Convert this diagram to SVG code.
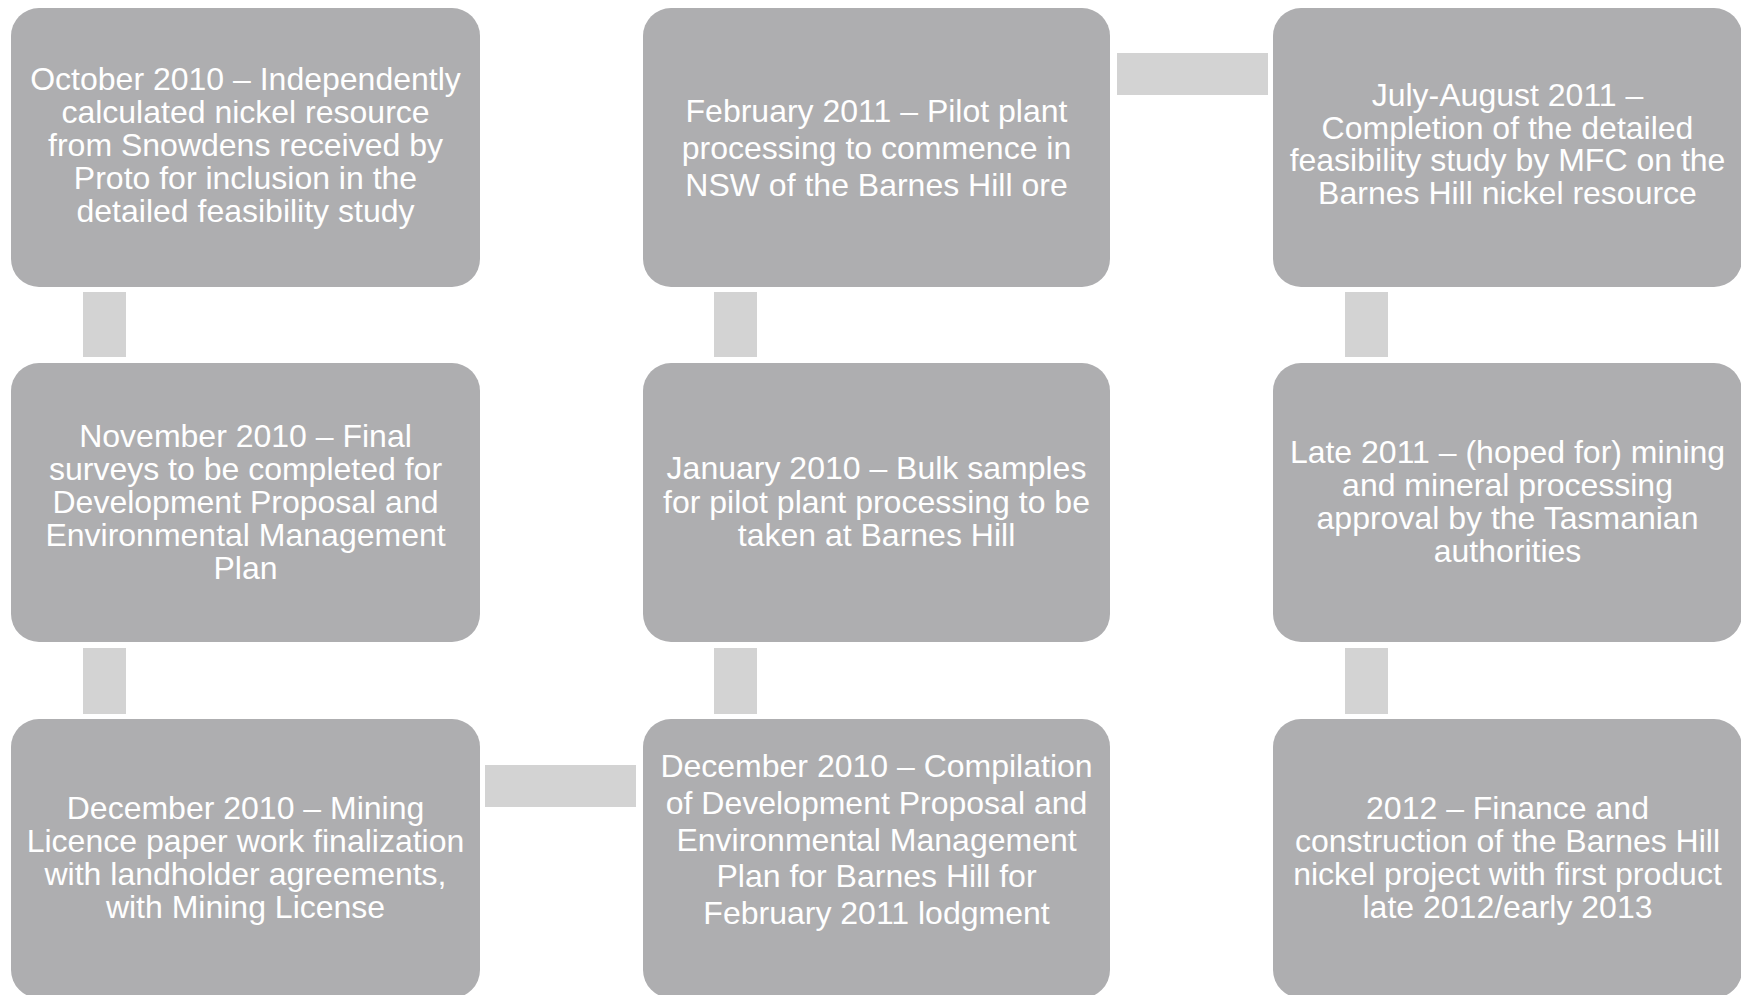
<svg xmlns="http://www.w3.org/2000/svg" width="1741" height="995" viewBox="0 0 1741 995">
<style>
.box{fill:#AEAEB0;}
.conn{fill:#D3D3D3;}
text{font-family:"Liberation Sans",Arial,sans-serif;font-size:32px;fill:#FFFFFF;text-anchor:middle;}
</style>
<rect width="1741" height="995" fill="#FFFFFF"/>
<g id="connectors">
<rect class="conn" x="83" y="292" width="43" height="65"/>
<rect class="conn" x="83" y="648" width="43" height="66"/>
<rect class="conn" x="714" y="292" width="43" height="65"/>
<rect class="conn" x="714" y="648" width="43" height="66"/>
<rect class="conn" x="1345" y="292" width="43" height="65"/>
<rect class="conn" x="1345" y="648" width="43" height="66"/>
<rect class="conn" x="1117" y="53" width="151" height="42"/>
<rect class="conn" x="485" y="765" width="151" height="42"/>
</g>
<g id="node-oct2010">
<rect class="box" x="11" y="8" width="469" height="279" rx="28"/>
<text x="245.5"><tspan x="245.5" y="90">October 2010 – Independently</tspan><tspan x="245.5" y="123">calculated nickel resource</tspan><tspan x="245.5" y="156">from Snowdens received by</tspan><tspan x="245.5" y="189">Proto for inclusion in the</tspan><tspan x="245.5" y="222">detailed feasibility study</tspan></text>
</g>
<g id="node-feb2011">
<rect class="box" x="643" y="8" width="467" height="279" rx="28"/>
<text><tspan x="876.5" y="122">February 2011 – Pilot plant</tspan><tspan x="876.5" y="159">processing to commence in</tspan><tspan x="876.5" y="196">NSW of the Barnes Hill ore</tspan></text>
</g>
<g id="node-julaug2011">
<rect class="box" x="1273" y="8" width="469" height="279" rx="28"/>
<text><tspan x="1507.5" y="106">July-August 2011 –</tspan><tspan x="1507.5" y="138.5">Completion of the detailed</tspan><tspan x="1507.5" y="171">feasibility study by MFC on the</tspan><tspan x="1507.5" y="203.5">Barnes Hill nickel resource</tspan></text>
</g>
<g id="node-nov2010">
<rect class="box" x="11" y="363" width="469" height="279" rx="28"/>
<text><tspan x="245.5" y="446.5">November 2010 – Final</tspan><tspan x="245.5" y="479.5">surveys to be completed for</tspan><tspan x="245.5" y="512.5">Development Proposal and</tspan><tspan x="245.5" y="545.5">Environmental Management</tspan><tspan x="245.5" y="578.5">Plan</tspan></text>
</g>
<g id="node-jan2010">
<rect class="box" x="643" y="363" width="467" height="279" rx="28"/>
<text><tspan x="876.5" y="479">January 2010 – Bulk samples</tspan><tspan x="876.5" y="512.5">for pilot plant processing to be</tspan><tspan x="876.5" y="546">taken at Barnes Hill</tspan></text>
</g>
<g id="node-late2011">
<rect class="box" x="1273" y="363" width="469" height="279" rx="28"/>
<text><tspan x="1507.5" y="463">Late 2011 – (hoped for) mining</tspan><tspan x="1507.5" y="496">and mineral processing</tspan><tspan x="1507.5" y="529">approval by the Tasmanian</tspan><tspan x="1507.5" y="562">authorities</tspan></text>
</g>
<g id="node-dec2010-mining">
<rect class="box" x="11" y="719" width="469" height="279" rx="28"/>
<text><tspan x="245.5" y="819">December 2010 – Mining</tspan><tspan x="245.5" y="852">Licence paper work finalization</tspan><tspan x="245.5" y="885">with landholder agreements,</tspan><tspan x="245.5" y="918">with Mining License</tspan></text>
</g>
<g id="node-dec2010-compilation">
<rect class="box" x="643" y="719" width="467" height="279" rx="28"/>
<text><tspan x="876.5" y="777">December 2010 – Compilation</tspan><tspan x="876.5" y="814">of Development Proposal and</tspan><tspan x="876.5" y="850.5">Environmental Management</tspan><tspan x="876.5" y="887">Plan for Barnes Hill for</tspan><tspan x="876.5" y="924">February 2011 lodgment</tspan></text>
</g>
<g id="node-2012">
<rect class="box" x="1273" y="719" width="469" height="279" rx="28"/>
<text><tspan x="1507.5" y="819">2012 – Finance and</tspan><tspan x="1507.5" y="852">construction of the Barnes Hill</tspan><tspan x="1507.5" y="885">nickel project with first product</tspan><tspan x="1507.5" y="918">late 2012/early 2013</tspan></text>
</g>
</svg>
